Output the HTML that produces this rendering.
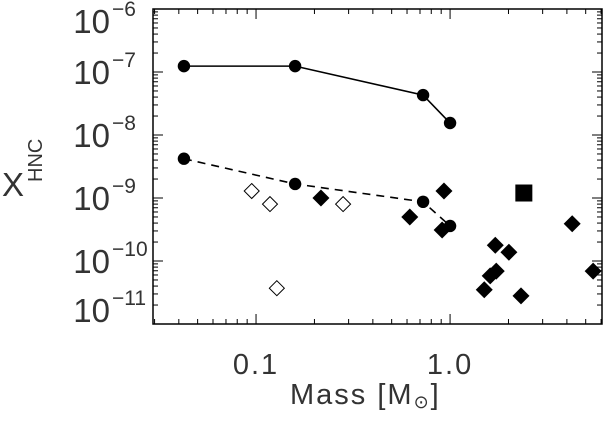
<!DOCTYPE html>
<html><head><meta charset="utf-8"><style>
html,body{margin:0;padding:0;background:#fff;}
svg{display:block;font-family:"Liberation Sans",sans-serif;}
</style></head><body>
<svg id="chart" width="604" height="426" viewBox="0 0 604 426" xmlns="http://www.w3.org/2000/svg"></svg>
<script>
// ---- data ----
const solidMass = [0.0425, 0.159, 0.726, 1.0];
const solidX = [1.24e-7, 1.24e-7, 4.3e-8, 1.55e-8];
const dashedMass = [0.0425, 0.159, 0.726, 1.0];
const dashedX = [4.2e-9, 1.67e-9, 8.7e-10, 3.6e-10];
const openMass = [0.095, 0.118, 0.281, 0.128];
const openX = [1.29e-9, 8.0e-10, 8.0e-10, 3.7e-11];
const filledMass = [0.216, 0.62, 0.93, 0.91, 1.71, 2.01, 1.73, 1.61, 1.50, 2.32, 4.26, 5.46];
const filledX = [1.0e-9, 5.0e-10, 1.29e-9, 3.1e-10, 1.78e-10, 1.38e-10, 6.9e-11, 5.8e-11, 3.5e-11, 2.8e-11, 3.9e-10, 6.9e-11];
const squareMass = [2.40];
const squareX = [1.2e-9];
const yTickExp = [-6, -7, -8, -9, -10, -11];
const xTickVals = [0.1, 1.0];
const xTickLabels = ["0.1", "1.0"];

// ---- axes ----
const L = 153, R = 602, T = 9, B = 324;
const xMinLog = -1.531, xMaxLog = 0.783;
const yMinLog = -11, yMaxLog = -6;
const sx = v => L + (Math.log10(v) - xMinLog) / (xMaxLog - xMinLog) * (R - L);
const sy = v => B - (Math.log10(v) - yMinLog) / (yMaxLog - yMinLog) * (B - T);

const svg = document.getElementById('chart');
const NS = 'http://www.w3.org/2000/svg';
function mk(tag, attrs, parent) {
  const e = document.createElementNS(NS, tag);
  for (const k in attrs) e.setAttribute(k, attrs[k]);
  (parent || svg).appendChild(e);
  return e;
}

const frame = mk('rect', {x: L, y: T, width: R - L, height: B - T, fill: 'none', stroke: '#000', 'stroke-width': 1.5});



const yTicks = mk('g', {stroke: '#000', 'stroke-width': 1});


for (let e = -11; e < -6; e++) {
  for (let m = 1; m <= 9; m++) {
    const y = sy(m * Math.pow(10, e));
    const len = m === 1 ? 10 : 5;
    mk('line', {x1: L, x2: L + len, y1: y, y2: y}, yTicks);
    mk('line', {x1: R, x2: R - len, y1: y, y2: y}, yTicks);
  }
}
const xTicks = mk('g', {stroke: '#000', 'stroke-width': 1});


for (let e = -2; e <= 0; e++) {
  for (let m = 1; m <= 9; m++) {
    const v = m * Math.pow(10, e);
    const x = sx(v);
    if (x < L || x > R) continue;
    const len = m === 1 ? 10 : 5;
    mk('line', {x1: x, x2: x, y1: B, y2: B - len}, xTicks);
    mk('line', {x1: x, x2: x, y1: T, y2: T + len}, xTicks);
  }
}

yTickExp.forEach(ex => {
  let y = sy(Math.pow(10, ex));
  y = Math.max(T + 12, Math.min(B - 14, y));
  const t = mk('text', {x: 110, y: y + 12, 'text-anchor': 'end', 'font-size': 33, fill: '#333'});
  t.textContent = '10';
  
  
  const s = mk('text', {x: 112, y: y - 5, 'text-anchor': 'start', 'font-size': 21, fill: '#333'});
  s.textContent = '\u2212' + (-ex);
  
  
});
xTickVals.forEach((v, i) => {
  const t = mk('text', {x: sx(v), y: 374, 'text-anchor': 'middle', 'font-size': 29, 'letter-spacing': 2, fill: '#333'});
  t.textContent = xTickLabels[i];
  
  
});

function pathFrom(xs, ys) { return xs.map((v, i) => (i ? 'L' : 'M') + sx(v) + ' ' + sy(ys[i])).join(' '); }
const sl = mk('path', {d: pathFrom(solidMass, solidX), fill: 'none', stroke: '#000', 'stroke-width': 1.6});


const dl = mk('path', {d: pathFrom(dashedMass, dashedX), fill: 'none', stroke: '#000', 'stroke-width': 1.6, 'stroke-dasharray': '8 6'});



solidMass.forEach((v, i) => {
  const c = mk('circle', {cx: sx(v), cy: sy(solidX[i]), r: 6.2, fill: '#000'});
  
  
});
dashedMass.forEach((v, i) => {
  const c = mk('circle', {cx: sx(v), cy: sy(dashedX[i]), r: 6.2, fill: '#000'});
  
  
});
function diamond(x, y, r) { return `M${x} ${y - r} L${x + r} ${y} L${x} ${y + r} L${x - r} ${y} Z`; }
openMass.forEach((v, i) => {
  const d = mk('path', {d: diamond(sx(v), sy(openX[i]), 7.5), fill: '#fff', stroke: '#000', 'stroke-width': 1});
  
  
});
filledMass.forEach((v, i) => {
  const d = mk('path', {d: diamond(sx(v), sy(filledX[i]), 8.5), fill: '#000'});
  
  
});
squareMass.forEach((v, i) => {
  const q = mk('rect', {x: sx(v) - 8.5, y: sy(squareX[i]) - 8.5, width: 17, height: 17, fill: '#000'});
  
  
});

const xt = mk('text', {x: 290, y: 404, 'font-size': 29, 'letter-spacing': 2, fill: '#333'});
xt.innerHTML = 'Mass [M<tspan font-size="18" dy="4">\u2299</tspan><tspan dy="-4">]</tspan>';


const yt = mk('text', {x: 2, y: 196, 'font-size': 33, fill: '#333'});
yt.textContent = 'X';


const ys = mk('text', {x: 0, y: 0, 'font-size': 20, fill: '#333', transform: 'translate(42,182) rotate(-90)'});
ys.textContent = 'HNC';


</script>
</body></html>
